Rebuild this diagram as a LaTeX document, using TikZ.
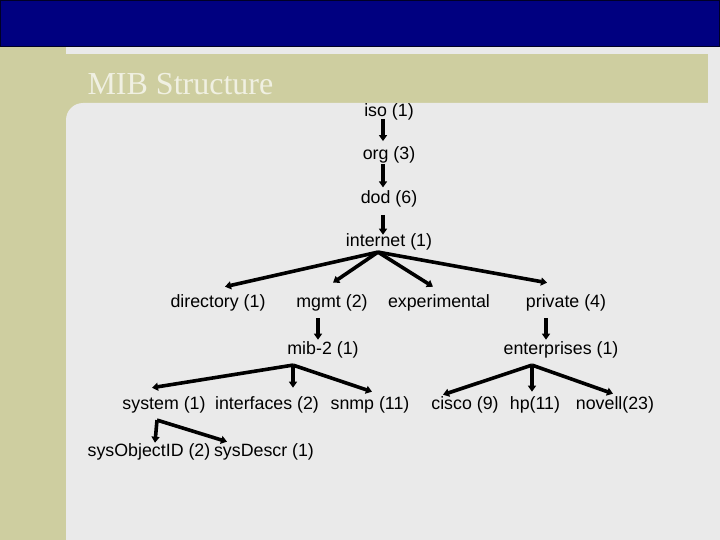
\documentclass[tikz,border=0pt]{standalone}
\usepackage{fontspec}
\setmainfont{Liberation Sans}
\newfontfamily\titlefont{Liberation Serif}
\usetikzlibrary{positioning, arrows.meta}
\definecolor{barblue}{RGB}{0,0,128}
\definecolor{khaki}{RGB}{206,206,160}
\definecolor{panel}{RGB}{234,234,234}
\definecolor{titletext}{RGB}{240,240,226}

\begin{document}
\begin{tikzpicture}[x=1pt,y=1pt,node distance=43.3pt,on grid,
  lbl/.style={inner sep=0pt,text height=13pt,text depth=4pt,font=\fontsize{17.8}{20}\selectfont},
  link/.style={line width=3.6pt,line join=round,-{Triangle[length=6pt,width=8pt]}}]
  \useasboundingbox (0,0) rectangle (720,-540);
  \fill[panel] (0,0) rectangle (720,-540);
  \fill[khaki] (0,-47) rectangle (66,-540);
  \fill[khaki] (66,-54) rectangle (708,-120);
  \fill[panel] (66,-540) -- (66,-120) arc[start angle=180,end angle=90,radius=17] -- (720,-103) -- (720,-540) -- cycle;
  \fill[barblue,draw=black!70!barblue,line width=1pt] (0.5,-0.5) rectangle (719.5,-47);
  \node[anchor=base west,text=titletext,font=\titlefont\fontsize{32}{36}\selectfont] (title) at (84,-95) {MIB Structure};

  \node[lbl] (iso) at (389,-112) {iso (1)};
  \node[lbl, below=of iso] (org) {org (3)};
  \node[lbl, below=of org] (dod) {dod (6)};
  \node[lbl, below=of dod] (internet) {internet (1)};
  \node[lbl, below left=61pt and 171pt of internet] (directory) {directory (1)};
  \node[lbl, below left=61pt and 57pt of internet] (mgmt) {mgmt (2)};
  \node[lbl, below right=61pt and 50pt of internet] (experimental) {experimental};
  \node[lbl, below right=61pt and 177pt of internet] (private) {private (4)};
  \node[lbl, below left=47pt and 9pt of mgmt] (mib2) {mib-2 (1)};
  \node[lbl, below left=47pt and 5pt of private] (enterprises) {enterprises (1)};
  \node[lbl, below left=55pt and 159pt of mib2] (system) {system (1)};
  \node[lbl, below left=55pt and 56pt of mib2] (interfaces) {interfaces (2)};
  \node[lbl, below right=55pt and 47pt of mib2] (snmp) {snmp (11)};
  \node[lbl, below left=55pt and 96pt of enterprises] (cisco) {cisco (9)};
  \node[lbl, below left=55pt and 26pt of enterprises] (hp) {hp(11)};
  \node[lbl, below right=55pt and 54pt of enterprises] (novell) {novell(23)};
  \node[lbl, below left=47pt and 15pt of system] (sysobjectid) {sysObjectID (2)};
  \node[lbl, below right=47pt and 100pt of system] (sysdescr) {sysDescr (1)};

  \coordinate (internet-fork) at ([xshift=-11pt,yshift=-1.5pt]internet.south);
  \coordinate (mib2-fork) at ([xshift=-30pt,yshift=-6.5pt]mib2.south);
  \coordinate (enterprises-fork) at ([xshift=-29pt,yshift=-6.5pt]enterprises.south);
  \coordinate (system-fork) at ([xshift=-7pt,yshift=-6.5pt]system.south);

  \draw[link] ([xshift=-6pt,yshift=1.5pt]iso.south) -- ([xshift=-6pt,yshift=5.5pt]org.north);
  \draw[link] ([xshift=-6pt,yshift=-0.5pt]org.south) -- ([xshift=-6pt,yshift=2.5pt]dod.north);
  \draw[link] ([xshift=-6pt,yshift=-7.5pt]dod.south) -- ([xshift=-6pt,yshift=-1.5pt]internet.north);
  \draw[link] (internet-fork) -- ([xshift=7pt,yshift=7.5pt]directory.north);
  \draw[link] (internet-fork) -- ([xshift=1pt,yshift=11.5pt]mgmt.north);
  \draw[link] (internet-fork) -- ([xshift=-6pt,yshift=7.5pt]experimental.north);
  \draw[link] (internet-fork) -- ([xshift=-19pt,yshift=11.5pt]private.north);
  \draw[link] ([xshift=-14pt,yshift=-6.5pt]mgmt.south) -- ([xshift=-5pt,yshift=1.5pt]mib2.north);
  \draw[link] ([xshift=-20pt,yshift=-6.5pt]private.south) -- ([xshift=-15pt,yshift=1.5pt]enterprises.north);
  \draw[link] (mib2-fork) -- ([xshift=-12pt,yshift=8.5pt]system.north);
  \draw[link] (mib2-fork) -- ([xshift=26pt,yshift=8.5pt]interfaces.north);
  \draw[link] (mib2-fork) -- ([xshift=2pt,yshift=4.5pt]snmp.north);
  \draw[link] (enterprises-fork) -- ([xshift=-22pt,yshift=1.5pt]cisco.north);
  \draw[link] (enterprises-fork) -- ([xshift=-3pt,yshift=4.5pt]hp.north);
  \draw[link] (enterprises-fork) -- ([xshift=-2pt,yshift=2.5pt]novell.north);
  \draw[link] (system-fork) -- ([xshift=6pt,yshift=0.5pt]sysobjectid.north);
  \draw[link] (system-fork) -- ([xshift=-37pt,yshift=1.5pt]sysdescr.north);
\end{tikzpicture}
\end{document}
